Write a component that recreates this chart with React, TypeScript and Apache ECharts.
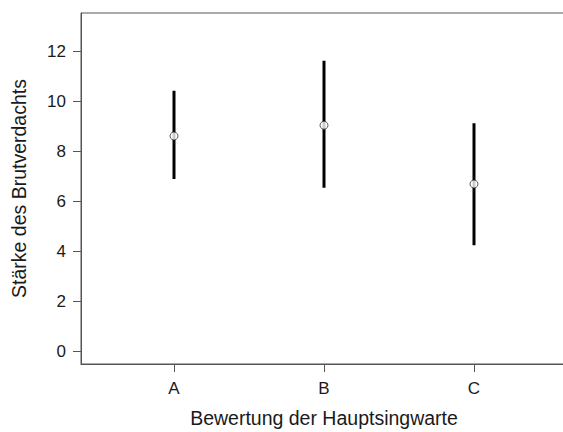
import React, { useEffect, useRef } from "react";
import * as echarts from "echarts";

const categories = ["A", "B", "C"];
const means = [8.6, 9.03, 6.68];
const lowers = [6.88, 6.53, 4.23];
const uppers = [10.41, 11.61, 9.11];
const yTicks = [0, 2, 4, 6, 8, 10, 12];

export default function App() {
  const ref = useRef<HTMLDivElement>(null);
  useEffect(() => {
    document.body.style.margin = "0";
    const chart = echarts.init(ref.current!, null, { renderer: "svg" });
    const font = "'Liberation Sans', Arial, sans-serif";
    const axisColor = "#555";
    chart.setOption({
      animation: false,
      backgroundColor: "#fff",
      grid: {
        left: 81,
        width: 486,
        top: 13,
        height: 351,
        outerBoundsMode: "none",
        containLabel: false,
        show: true,
        borderColor: axisColor,
        borderWidth: 1,
        backgroundColor: "transparent",
      },
      xAxis: {
        type: "value",
        min: 0.38,
        max: 3.62,
        name: "Bewertung der Hauptsingwarte",
        nameLocation: "middle",
        nameGap: 44,
        nameTextStyle: { fontFamily: font, fontSize: 19.5, color: "#1a1a1a" },
        splitLine: { show: false },
        axisLine: { show: true, onZero: false, lineStyle: { color: axisColor, width: 1 } },
        axisTick: {
          show: true,
          inside: false,
          length: 8,
          customValues: [1, 2, 3],
          lineStyle: { color: axisColor },
        },
        axisLabel: {
          customValues: [1, 2, 3],
          formatter: (v: number) => categories[Math.round(v) - 1] ?? "",
          fontFamily: font,
          fontSize: 17,
          color: "#1a1a1a",
          margin: 16,
        },
      },
      yAxis: {
        type: "value",
        min: -0.52,
        max: 13.52,
        name: "Stärke des Brutverdachts",
        nameLocation: "middle",
        nameGap: 52,
        nameTextStyle: { fontFamily: font, fontSize: 19.5, color: "#1a1a1a" },
        splitLine: { show: false },
        axisLine: { show: true, onZero: false, lineStyle: { color: axisColor, width: 1 } },
        axisTick: {
          show: true,
          length: 8,
          customValues: yTicks,
          lineStyle: { color: axisColor },
        },
        axisLabel: {
          customValues: yTicks,
          fontFamily: font,
          fontSize: 17,
          color: "#1a1a1a",
          margin: 15,
        },
      },
      series: [
        {
          type: "custom",
          data: categories.map((_, i) => [i + 1, lowers[i], uppers[i]]),
          renderItem: (params: any, api: any) => {
            const x = api.value(0);
            const p1 = api.coord([x, api.value(1)]);
            const p2 = api.coord([x, api.value(2)]);
            return {
              type: "line",
              shape: { x1: p1[0], y1: p1[1], x2: p2[0], y2: p2[1] },
              style: { stroke: "#000", lineWidth: 3, lineCap: "butt" },
            };
          },
          z: 2,
        },
        {
          type: "scatter",
          data: categories.map((_, i) => [i + 1, means[i]]),
          symbol: "circle",
          symbolSize: 8,
          itemStyle: { color: "#fff", borderColor: "#333", borderWidth: 1 },
          z: 3,
        },
      ],
    });
    return () => chart.dispose();
  }, []);
  return <div ref={ref} style={{ width: 563, height: 432 }} />;
}
